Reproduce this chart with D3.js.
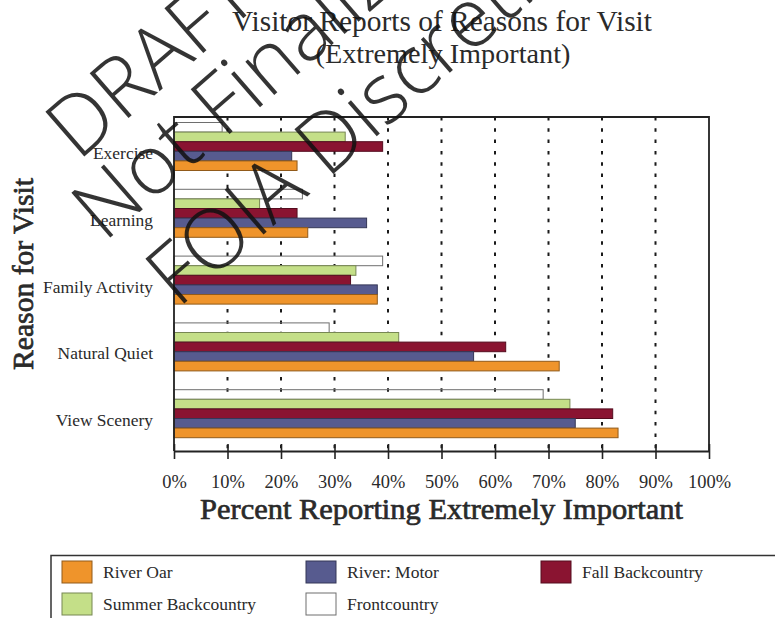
<!DOCTYPE html>
<html>
<head>
<meta charset="utf-8">
<script src="https://cdn.jsdelivr.net/npm/d3@7"></script>
<style>
  html, body { margin: 0; padding: 0; background: #fff; }
  svg { display: block; }
</style>
</head>
<body>
<svg id="chart" width="775" height="618"></svg>
<script>
// Reasons for visit (top to bottom)
const categories = ["Exercise", "Learning", "Family Activity", "Natural Quiet", "View Scenery"];

// Visitor groups, in the order the bars stack inside each reason
const seriesNames = ["Frontcountry", "Summer Backcountry", "Fall Backcountry", "River: Motor", "River Oar"];

// Percent reporting "extremely important", one value per reason
const frontcountry      = [9, 24, 39, 29, 69];
const summerBackcountry = [32, 16, 34, 42, 74];
const fallBackcountry   = [39, 23, 33, 62, 82];
const riverMotor        = [22, 36, 38, 56, 75];
const riverOar          = [23, 25, 38, 72, 83];

const xTicks = [0, 10, 20, 30, 40, 50, 60, 70, 80, 90, 100];
const legendOrder = ["River Oar", "River: Motor", "Fall Backcountry", "Summer Backcountry", "Frontcountry"];

const seriesValues = {
  "Frontcountry": frontcountry,
  "Summer Backcountry": summerBackcountry,
  "Fall Backcountry": fallBackcountry,
  "River: Motor": riverMotor,
  "River Oar": riverOar
};

const fills = {
  "River Oar": "#EF942B",
  "River: Motor": "#575B8F",
  "Fall Backcountry": "#8A1431",
  "Summer Backcountry": "#C4DF88",
  "Frontcountry": "#FFFFFF"
};

const serif = "'Liberation Serif', 'Times New Roman', serif";
const ink = "#2a2a2a";
const svg = d3.select("#chart");

// shrink/grow a text element's font size so it spans the given width
function fitWidth(sel, width) {
  const node = sel.node();
  const size = parseFloat(sel.attr("font-size"));
  const w = node.getComputedTextLength();
  sel.attr("font-size", (size * width / w).toFixed(2));
}

const plot = { left: 174, right: 709, top: 117, bottom: 451 };

const x = d3.scaleLinear().domain([0, 100]).range([plot.left, plot.right]);
const y = d3.scaleBand().domain(categories).range([plot.top, plot.bottom]);
const yInner = d3.scaleBand().domain(seriesNames).range([5.5, 53.5]);

// dotted reference lines
svg.append("g")
  .selectAll("line")
  .data(xTicks.filter(t => t > 0 && t < 100))
  .join("line")
  .attr("x1", d => x(d)).attr("x2", d => x(d))
  .attr("y1", plot.top).attr("y2", plot.bottom)
  .attr("stroke", "#1a1a1a")
  .attr("stroke-width", 2)
  .attr("stroke-dasharray", "3.5,7.8");

// bars
const rows = [];
categories.forEach((c, i) => {
  seriesNames.forEach(s => rows.push({ cat: c, series: s, value: seriesValues[s][i] }));
});

svg.append("g")
  .selectAll("rect")
  .data(rows)
  .join("rect")
  .attr("x", x(0))
  .attr("y", d => y(d.cat) + yInner(d.series))
  .attr("width", d => x(d.value) - x(0))
  .attr("height", yInner.bandwidth())
  .attr("fill", d => d.series === "Frontcountry" ? "none" : fills[d.series])
  .attr("stroke", d => d.series === "Frontcountry" ? "#6e6e6e" : d3.color(fills[d.series]).darker(1.4))
  .attr("stroke-width", 1);

// frame
svg.append("path")
  .attr("d", `M${plot.left},${plot.bottom}V${plot.top}H${plot.right}V${plot.bottom}`)
  .attr("fill", "none")
  .attr("stroke", "#222")
  .attr("stroke-width", 1.8);

// bottom axis
const xAxis = svg.append("g")
  .attr("transform", `translate(0,${plot.bottom})`)
  .call(d3.axisBottom(x).tickValues(xTicks).tickFormat(d => d + "%")
    .tickSizeInner(8).tickSizeOuter(0).tickPadding(16));
xAxis.select(".domain").attr("stroke", "#222").attr("stroke-width", 1.8);
xAxis.selectAll(".tick line").attr("y1", -7).attr("stroke", "#222").attr("stroke-width", 1.6);
xAxis.selectAll(".tick text")
  .attr("font-family", serif).attr("font-size", 17).attr("fill", ink);
fitWidth(xAxis.selectAll(".tick text").filter(d => d === 100), 43);
const tickSize = xAxis.selectAll(".tick text").filter(d => d === 100).attr("font-size");
xAxis.selectAll(".tick text").attr("font-size", tickSize);

// category labels
const yAxis = svg.append("g")
  .attr("transform", `translate(${plot.left},0)`)
  .call(d3.axisLeft(y).tickSize(0).tickPadding(21));
yAxis.select(".domain").remove();
yAxis.selectAll(".tick text")
  .attr("font-family", serif).attr("font-size", 17).attr("fill", ink)
  .attr("y", 3);
fitWidth(yAxis.selectAll(".tick text").filter(d => d === "Family Activity"), 110);
const catSize = yAxis.selectAll(".tick text").filter(d => d === "Family Activity").attr("font-size");
yAxis.selectAll(".tick text").attr("font-size", catSize);

// titles
const title = svg.append("text")
  .attr("x", 442).attr("y", 31).attr("text-anchor", "middle")
  .attr("font-family", serif).attr("font-size", 28).attr("fill", ink)
  .text("Visitor Reports of Reasons for Visit");
fitWidth(title, 420);

const subtitle = svg.append("text")
  .attr("x", 443).attr("y", 63).attr("text-anchor", "middle")
  .attr("font-family", serif).attr("font-size", 28).attr("fill", ink)
  .text("(Extremely Important)");
fitWidth(subtitle, 255);

// axis titles: regular face thickened slightly for a semibold look
const xTitle = svg.append("text")
  .attr("x", 441.5).attr("y", 519).attr("text-anchor", "middle")
  .attr("font-family", serif).attr("font-size", 24)
  .attr("fill", ink).attr("stroke", ink).attr("stroke-width", 0.7)
  .text("Percent Reporting Extremely Important");
fitWidth(xTitle, 483);

const yTitle = svg.append("text")
  .attr("transform", "translate(33,274) rotate(-90)")
  .attr("text-anchor", "middle")
  .attr("font-family", serif).attr("font-size", 24)
  .attr("fill", ink).attr("stroke", ink).attr("stroke-width", 0.7)
  .text("Reason for Visit");
fitWidth(yTitle, 192);

// legend
const legend = svg.append("g");
legend.append("rect")
  .attr("x", 51).attr("y", 555.5).attr("width", 760).attr("height", 100)
  .attr("fill", "none").attr("stroke", "#333").attr("stroke-width", 1.5);

const legendPos = [[62, 561], [306, 561], [541, 561], [62, 593], [306, 593]];
const items = legend.selectAll("g.item")
  .data(legendOrder)
  .join("g")
  .attr("class", "item")
  .attr("transform", (d, i) => `translate(${legendPos[i][0]},${legendPos[i][1]})`);
items.append("rect")
  .attr("width", 30).attr("height", 22)
  .attr("fill", d => fills[d])
  .attr("stroke", d => d === "Frontcountry" ? "#6e6e6e" : d3.color(fills[d]).darker(1.4))
  .attr("stroke-width", 1);
const legendText = items.append("text")
  .attr("x", 41).attr("y", 17)
  .attr("font-family", serif).attr("font-size", 17).attr("fill", ink)
  .text(d => d);
fitWidth(legendText.filter(d => d === "Fall Backcountry"), 121);
const legSize = legendText.filter(d => d === "Fall Backcountry").attr("font-size");
legendText.attr("font-size", legSize);

// draft stamp across the upper left
const stampLines = ["DRAFT", "Not Finalized", "FOIA Discretion"];
const stampOrigin = [[78, 162], [104, 243], [178, 309]];
svg.append("g")
  .attr("opacity", 0.85)
  .selectAll("text")
  .data(stampLines)
  .join("text")
  .attr("transform", (d, i) => `translate(${stampOrigin[i][0]},${stampOrigin[i][1]}) rotate(-41)`)
  .attr("font-family", "'Open Sans', Roboto, sans-serif")
  .attr("font-weight", 300)
  .attr("font-size", 83)
  .attr("fill", "#111")
  .text(d => d);
</script>
</body>
</html>
